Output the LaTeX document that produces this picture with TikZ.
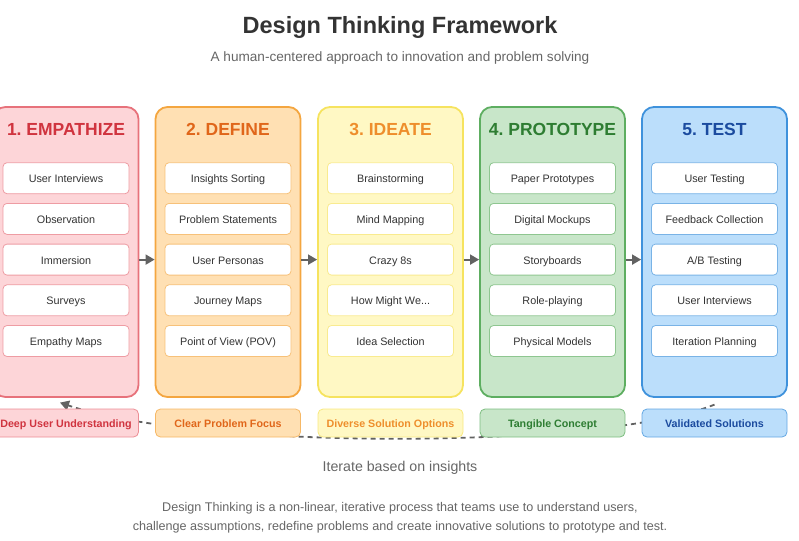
\documentclass[tikz,border=0pt]{standalone}
\usepackage{fontspec}
\setmainfont{Liberation Sans}
\usetikzlibrary{arrows.meta,backgrounds}
\frenchspacing

\definecolor{empfill}{HTML}{FDD5D8}
\definecolor{empline}{HTML}{E7727B}
\definecolor{emptext}{HTML}{D0343F}
\definecolor{deffill}{HTML}{FFE0B3}
\definecolor{defline}{HTML}{F4A640}
\definecolor{deftext}{HTML}{E0661A}
\definecolor{idefill}{HTML}{FFF8C4}
\definecolor{ideline}{HTML}{F6E35F}
\definecolor{idetext}{HTML}{EE8E2C}
\definecolor{profill}{HTML}{C8E6C9}
\definecolor{proline}{HTML}{5EAE61}
\definecolor{protext}{HTML}{2E7D32}
\definecolor{tstfill}{HTML}{BBDEFB}
\definecolor{tstline}{HTML}{3F92DC}
\definecolor{tsttext}{HTML}{1B4B9F}
\definecolor{darktext}{HTML}{333333}
\definecolor{softtext}{HTML}{666666}
\definecolor{arrowgray}{HTML}{626262}

\tikzset{
  phase/.style={draw=#1line, fill=#1fill, line width=1.8pt, rounded corners=12pt,
    minimum width=145pt, minimum height=290pt},
  phasetitle/.style={text=#1text, font=\fontsize{17.5}{20}\selectfont\bfseries},
  item/.style={draw=#1line!70, fill=white, line width=0.8pt, rounded corners=4pt,
    minimum width=126pt, minimum height=31pt, text=darktext,
    text height=10pt, text depth=1pt, font=\fontsize{10.8}{13}\selectfont},
  outcome/.style={draw=#1line!80, fill=#1fill, line width=0.8pt, rounded corners=5pt,
    minimum width=145pt, minimum height=28pt, text=#1text,
    text height=10pt, text depth=1pt, font=\fontsize{10.7}{13}\selectfont\bfseries},
  flow/.style={draw=arrowgray, line width=1.8pt, -{Triangle[length=9pt,width=10pt]}},
  iterline/.style={draw=arrowgray, line width=1.8pt, dash pattern=on 5pt off 4pt,
    -{Triangle[length=9pt,width=10pt]}}
}

\begin{document}
\begin{tikzpicture}[x=1pt,y=-1pt]
  \useasboundingbox (0,0) rectangle (799,540);

  % heading
  \node[text=darktext, font=\fontsize{23.5}{28}\selectfont\bfseries] (title) at (400,27) {Design Thinking Framework};
  \node[text=softtext, font=\fontsize{13.6}{16}\selectfont] (subtitle) at (400,58) {A human-centered approach to innovation and problem solving};

  % phases
  \node[phase=emp] (emp) at (66,252) {};
  \node[phasetitle=emp] (emptitle) at (66,129) {1. EMPATHIZE};
  \foreach \t [count=\i] in {User Interviews, Observation, Immersion, Surveys, Empathy Maps}
    \node[item=emp] (emp\i) at (66,{137.5+40.7*\i}) {\t};

  \node[phase=def] (def) at (228,252) {};
  \node[phasetitle=def] (deftitle) at (228,129) {2. DEFINE};
  \foreach \t [count=\i] in {Insights Sorting, Problem Statements, User Personas, Journey Maps, Point of View (POV)}
    \node[item=def] (def\i) at (228,{137.5+40.7*\i}) {\t};

  \node[phase=ide] (ide) at (390.5,252) {};
  \node[phasetitle=ide] (idetitle) at (390.5,129) {3. IDEATE};
  \foreach \t [count=\i] in {Brainstorming, Mind Mapping, Crazy 8s, How Might We.{}.{}., Idea Selection}
    \node[item=ide] (ide\i) at (390.5,{137.5+40.7*\i}) {\t};

  \node[phase=pro] (pro) at (552.5,252) {};
  \node[phasetitle=pro] (protitle) at (552.5,129) {4. PROTOTYPE};
  \foreach \t [count=\i] in {Paper Prototypes, Digital Mockups, Storyboards, Role-playing, Physical Models}
    \node[item=pro] (pro\i) at (552.5,{137.5+40.7*\i}) {\t};

  \node[phase=tst] (tst) at (714.5,252) {};
  \node[phasetitle=tst] (tsttitle) at (714.5,129) {5. TEST};
  \foreach \t [count=\i] in {User Testing, Feedback Collection, A/B Testing, User Interviews, Iteration Planning}
    \node[item=tst] (tst\i) at (714.5,{137.5+40.7*\i}) {\t};

  % arrows between phases
  \draw[flow] (emp.east |- emp3) -- (def.west |- def3);
  \draw[flow] (def.east |- def3) -- (ide.west |- ide3);
  \draw[flow] (ide.east |- ide3) -- (pro.west |- pro3);
  \draw[flow] (pro.east |- pro3) -- (tst.west |- tst3);

  % outcomes
  \node[outcome=emp] (empout) at (66,423) {Deep User Understanding};
  \node[outcome=def] (defout) at (228,423) {Clear Problem Focus};
  \node[outcome=ide] (ideout) at (390.5,423) {Diverse Solution Options};
  \node[outcome=pro] (proout) at (552.5,423) {Tangible Concept};
  \node[outcome=tst] (tstout) at (714.5,423) {Validated Solutions};

  % iteration loop
  \begin{scope}[on background layer]
    \coordinate (loopstart) at ([yshift=4pt]tstout.north);
    \coordinate (loopend) at ([xshift=-6pt,yshift=6pt]empout.north);
    \draw[iterline] (loopstart) .. controls (600,450) and (200,450) .. (loopend);
  \end{scope}

  \node[text=softtext, font=\fontsize{14.2}{17}\selectfont] (iterate) at (400,468) {Iterate based on insights};

  % footer
  \node[text=softtext, align=center, font=\fontsize{12.6}{19}\selectfont] (footer) at (400,517.5)
    {Design Thinking is a non-linear, iterative process that teams use to understand users,\\
     challenge assumptions, redefine problems and create innovative solutions to prototype and test.};
\end{tikzpicture}
\end{document}
